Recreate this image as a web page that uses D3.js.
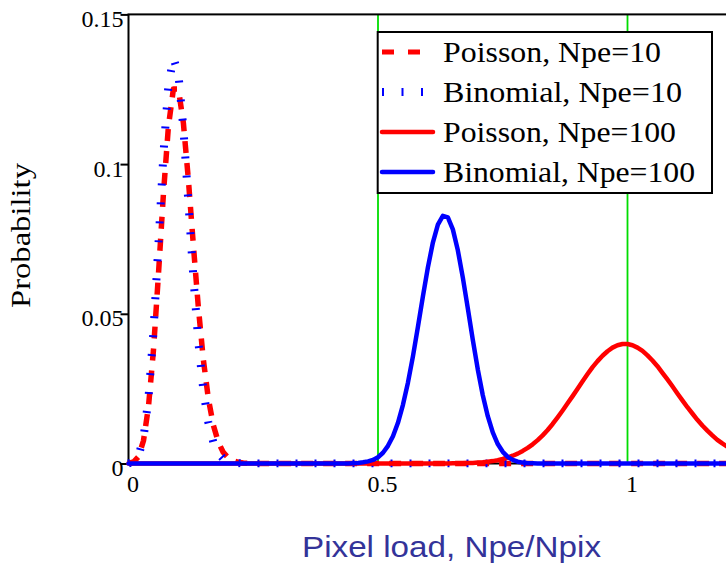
<!DOCTYPE html>
<html>
<head>
<meta charset="utf-8">
<script src="https://cdn.jsdelivr.net/npm/d3@7/dist/d3.min.js"></script>
<style>
  html, body { margin: 0; padding: 0; background: #fff; }
  svg { display: block; }
</style>
</head>
<body>
<svg id="chart" width="726" height="566"></svg>
<script>
// Occupancy probability vs pixel load, sampled at Npe/Npix = 0, 0.01, ... 1.20
const pixelLoad = d3.range(0, 121).map(i => i / 100);

const poisson10 = [
  0.0000, 0.0005, 0.0023, 0.0076, 0.0189, 0.0378, 0.0631, 0.0901, 0.1126, 0.1251,
  0.1251, 0.1137, 0.0948, 0.0729, 0.0521, 0.0347, 0.0217, 0.0128, 0.0071, 0.0037,
  0.0019, 0.0009, 0.0004, 0.0002, 0.0001, 0, 0, 0, 0, 0,
  0, 0, 0, 0, 0, 0, 0, 0, 0, 0,
  0, 0, 0, 0, 0, 0, 0, 0, 0, 0,
  0, 0, 0, 0, 0, 0, 0, 0, 0, 0,
  0, 0, 0, 0, 0, 0, 0, 0, 0, 0,
  0, 0, 0, 0, 0, 0, 0, 0, 0, 0,
  0, 0, 0, 0, 0, 0, 0, 0, 0, 0,
  0, 0, 0, 0, 0, 0, 0, 0, 0, 0,
  0, 0, 0, 0, 0, 0, 0, 0, 0, 0,
  0, 0, 0, 0, 0, 0, 0, 0, 0, 0,
  0
];

const binomial10 = [
  0.0000, 0.0005, 0.0025, 0.0085, 0.0218, 0.0440, 0.0732, 0.1034, 0.1264, 0.1355,
  0.1301, 0.1119, 0.0873, 0.0622, 0.0406, 0.0245, 0.0137, 0.0071, 0.0035, 0.0016,
  0.0007, 0.0003, 0.0001, 0, 0, 0, 0, 0, 0, 0,
  0, 0, 0, 0, 0, 0, 0, 0, 0, 0,
  0, 0, 0, 0, 0, 0, 0, 0, 0, 0,
  0, 0, 0, 0, 0, 0, 0, 0, 0, 0,
  0, 0, 0, 0, 0, 0, 0, 0, 0, 0,
  0, 0, 0, 0, 0, 0, 0, 0, 0, 0,
  0, 0, 0, 0, 0, 0, 0, 0, 0, 0,
  0, 0, 0, 0, 0, 0, 0, 0, 0, 0,
  0, 0, 0, 0, 0, 0, 0, 0, 0, 0,
  0, 0, 0, 0, 0, 0, 0, 0, 0, 0,
  0
];

const poisson100 = [
  0, 0, 0, 0, 0, 0, 0, 0, 0, 0,
  0, 0, 0, 0, 0, 0, 0, 0, 0, 0,
  0, 0, 0, 0, 0, 0, 0, 0, 0, 0,
  0, 0, 0, 0, 0, 0, 0, 0, 0, 0,
  0, 0, 0, 0, 0, 0, 0, 0, 0, 0,
  0, 0, 0, 0, 0, 0, 0, 0, 0, 0,
  0, 0, 0, 0, 0, 0.0001, 0.0001, 0.0001, 0.0002, 0.0002,
  0.0003, 0.0004, 0.0006, 0.0008, 0.0011, 0.0015, 0.0020, 0.0026, 0.0033, 0.0042,
  0.0052, 0.0064, 0.0078, 0.0094, 0.0112, 0.0132, 0.0154, 0.0177, 0.0201, 0.0225,
  0.0250, 0.0275, 0.0299, 0.0322, 0.0342, 0.0360, 0.0375, 0.0387, 0.0395, 0.0399,
  0.0399, 0.0395, 0.0387, 0.0376, 0.0361, 0.0344, 0.0325, 0.0303, 0.0281, 0.0258,
  0.0234, 0.0211, 0.0188, 0.0167, 0.0146, 0.0127, 0.0110, 0.0094, 0.0079, 0.0067,
  0.0056
];

const binomial100 = [
  0, 0, 0, 0, 0, 0, 0, 0, 0, 0,
  0, 0, 0, 0, 0, 0, 0, 0, 0, 0,
  0, 0, 0, 0, 0, 0, 0, 0, 0, 0,
  0, 0, 0, 0, 0, 0, 0, 0, 0, 0,
  0, 0, 0, 0, 0, 0.0001, 0.0002, 0.0004, 0.0007, 0.0012,
  0.0021, 0.0036, 0.0059, 0.0091, 0.0136, 0.0196, 0.0270, 0.0358, 0.0456, 0.0558,
  0.0655, 0.0738, 0.0798, 0.0827, 0.0822, 0.0782, 0.0712, 0.0621, 0.0518, 0.0413,
  0.0314, 0.0228, 0.0158, 0.0104, 0.0065, 0.0039, 0.0022, 0.0012, 0.0006, 0.0003,
  0.0001, 0.0001, 0, 0, 0, 0, 0, 0, 0, 0,
  0, 0, 0, 0, 0, 0, 0, 0, 0, 0,
  0, 0, 0, 0, 0, 0, 0, 0, 0, 0,
  0, 0, 0, 0, 0, 0, 0, 0, 0, 0,
  0
];

const seriesNames = ["Poisson, Npe=10", "Binomial, Npe=10", "Poisson, Npe=100", "Binomial, Npe=100"];
const yTickValues = [0, 0.05, 0.1, 0.15];
const yTickLabels = ["0", "0.05", "0.1", "0.15"];
const xTickValues = [0, 0.5, 1];
const xTickLabels = ["0", "0.5", "1"];
const markerLines = [0.5, 1];

const series = [
  { name: seriesNames[0], values: poisson10,   color: "#ff0000", width: 5.5, dash: "12,10", cap: "butt",  legendWidth: 5,   legendDash: "12,14" },
  { name: seriesNames[1], values: binomial10,  color: "#0000ff", width: 8,   dash: "2,17",  cap: "butt",  legendWidth: 8,   legendDash: "2,17.5" },
  { name: seriesNames[2], values: poisson100,  color: "#ff0000", width: 4.5, dash: null,    cap: "round", legendWidth: 4.5, legendDash: null },
  { name: seriesNames[3], values: binomial100, color: "#0000ff", width: 4.5, dash: null,    cap: "round", legendWidth: 4.5, legendDash: null }
];

const SERIF = '"Liberation Serif", "Times New Roman", serif';
const SANS = '"Liberation Sans", Arial, sans-serif';

const svg = d3.select("#chart");

const x = d3.scaleLinear().domain([0, 1.2]).range([128.5, 727.3]);
const y = d3.scaleLinear().domain([0, 0.15]).range([463.5, 14.4]);

// green reference lines
svg.append("g").selectAll("line").data(markerLines).join("line")
  .attr("x1", d => x(d)).attr("x2", d => x(d))
  .attr("y1", y(0.15)).attr("y2", y(0))
  .attr("stroke", "#00dd00").attr("stroke-width", 1.8);

// plot frame
svg.append("rect")
  .attr("x", x(0)).attr("y", y(0.15))
  .attr("width", x(1.2) - x(0)).attr("height", y(0) - y(0.15))
  .attr("fill", "none").attr("stroke", "#000").attr("stroke-width", 2);

// left axis with outward ticks
const yAxis = svg.append("g")
  .attr("transform", `translate(${x(0)},0)`)
  .call(d3.axisLeft(y).tickValues(yTickValues).tickSize(8).tickSizeOuter(0)
    .tickFormat((d, i) => yTickLabels[i]));
yAxis.select(".domain").remove();
yAxis.selectAll(".tick line").attr("stroke", "#000").attr("stroke-width", 2);
yAxis.selectAll(".tick text")
  .attr("x", -5).attr("dy", 12)
  .style("font-family", SERIF).style("font-size", "24px").attr("fill", "#000");

// right side inward ticks
const yAxisR = svg.append("g")
  .attr("transform", `translate(${x(1.2)},0)`)
  .call(d3.axisLeft(y).tickValues(yTickValues).tickSize(-9).tickSizeOuter(0).tickFormat(""));
yAxisR.select(".domain").remove();
yAxisR.selectAll(".tick line").attr("stroke", "#000").attr("stroke-width", 2);

// bottom labels
const xAxis = svg.append("g")
  .attr("transform", `translate(0,${y(0)})`)
  .call(d3.axisBottom(x).tickValues(xTickValues).tickSize(0).tickSizeOuter(0)
    .tickFormat((d, i) => xTickLabels[i]));
xAxis.select(".domain").remove();
xAxis.selectAll(".tick text")
  .attr("x", 4).attr("y", 28.5).attr("dy", 0)
  .style("font-family", SERIF).style("font-size", "24px").attr("fill", "#000");

// curves
svg.append("clipPath").attr("id", "plotClip")
  .append("rect").attr("x", x(0) - 4).attr("y", 0)
  .attr("width", x(1.2) - x(0) + 4).attr("height", y(0) + 4);

const line = d3.line()
  .x((d, i) => x(pixelLoad[i]))
  .y(d => y(d));

const curves = svg.append("g").attr("clip-path", "url(#plotClip)");
series.forEach(s => {
  curves.append("path")
    .datum(s.values)
    .attr("d", line)
    .attr("fill", "none")
    .attr("stroke", s.color)
    .attr("stroke-width", s.width)
    .attr("stroke-linejoin", "round")
    .attr("stroke-linecap", s.cap)
    .attr("stroke-dasharray", s.dash);
});

// legend
const legend = svg.append("g");
legend.append("rect")
  .attr("x", 377.7).attr("y", 32).attr("width", 334.3).attr("height", 161)
  .attr("fill", "#fff").attr("stroke", "#000").attr("stroke-width", 2);

const legendWidths = [218, 239, 233, 252];
series.forEach((s, i) => {
  const cy = 52 + i * 40;
  legend.append("line")
    .attr("x1", 382).attr("x2", 433).attr("y1", cy).attr("y2", cy)
    .attr("stroke", s.color)
    .attr("stroke-width", s.legendWidth)
    .attr("stroke-linecap", s.dash ? "butt" : "round")
    .attr("stroke-dasharray", s.legendDash);
  legend.append("text")
    .attr("x", 443).attr("y", cy + 10)
    .style("font-family", SERIF).style("font-size", "30px")
    .attr("textLength", legendWidths[i]).attr("lengthAdjust", "spacingAndGlyphs")
    .attr("fill", "#000")
    .text(s.name);
});

// axis titles
svg.append("text")
  .attr("transform", "translate(30,235.5) rotate(-90)")
  .attr("text-anchor", "middle")
  .style("font-family", SERIF).style("font-size", "27px")
  .attr("textLength", 145).attr("lengthAdjust", "spacingAndGlyphs")
  .attr("fill", "#000")
  .text("Probability");

svg.append("text")
  .attr("x", 302).attr("y", 557)
  .style("font-family", SANS).style("font-size", "29px")
  .attr("textLength", 299).attr("lengthAdjust", "spacingAndGlyphs")
  .attr("fill", "#333399")
  .text("Pixel load, Npe/Npix");
</script>
</body>
</html>
